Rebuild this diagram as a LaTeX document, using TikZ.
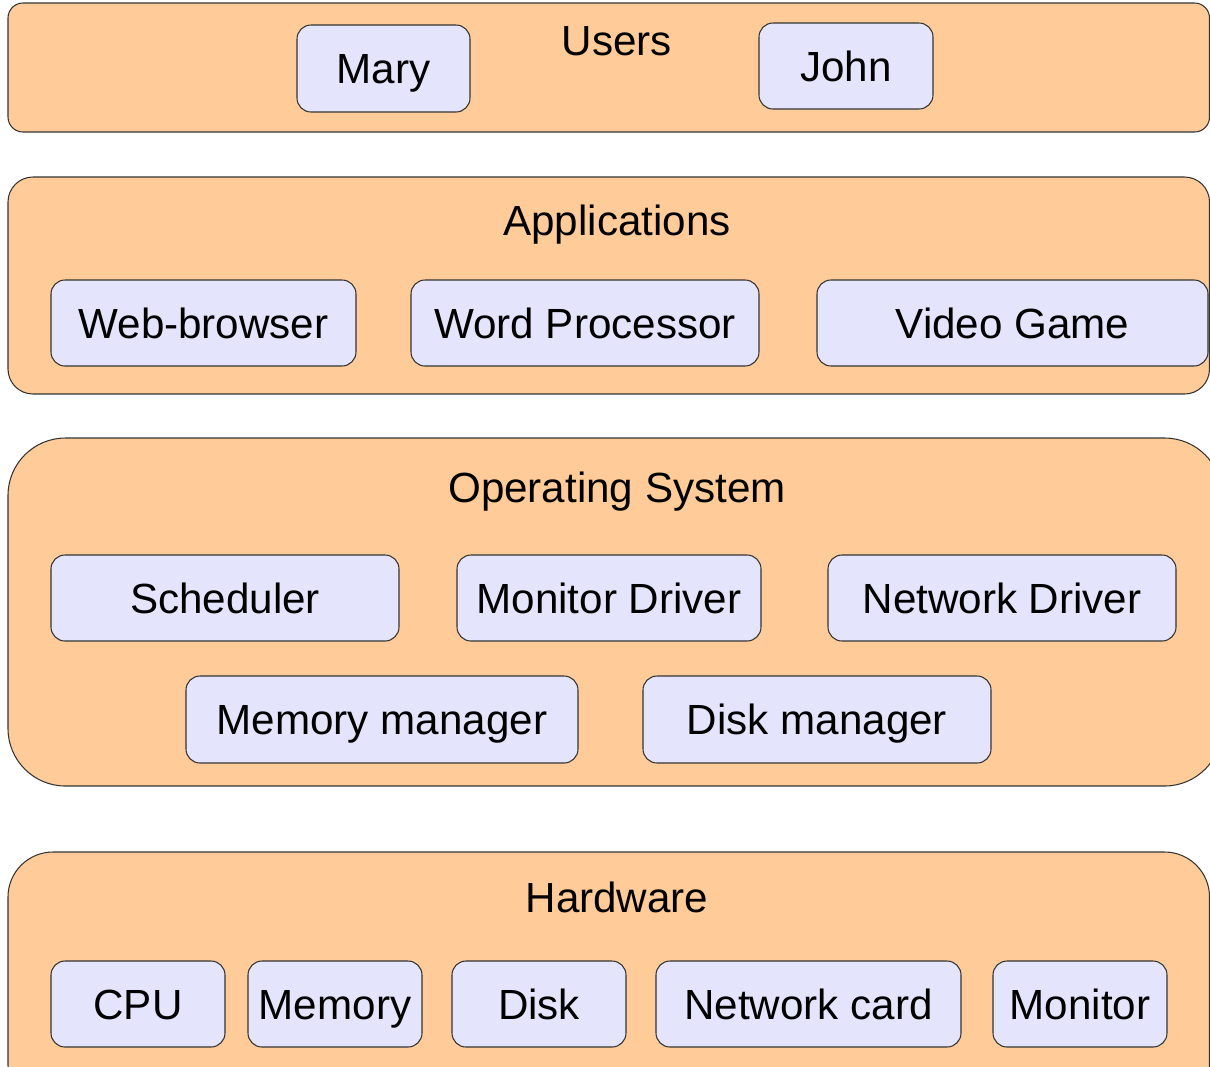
\documentclass[tikz,border=0pt]{standalone}
\usepackage{fontspec}
\setmainfont{Liberation Sans}
\usepackage{tikz}
\usetikzlibrary{positioning}
\usepackage{xcolor}

\definecolor{layerfill}{RGB}{255,204,153}
\definecolor{unitfill}{RGB}{228,228,252}

\begin{document}
\begin{tikzpicture}[
    layer/.style={draw=black!80, line width=0.6pt, fill=layerfill, inner sep=0pt},
    unit/.style={draw=black!80, line width=0.6pt, fill=unitfill, rounded corners=0.28cm,
        inner sep=0pt, minimum height=1.72cm, text height=17.3pt, text depth=0pt,
        font=\fontsize{24}{28}\selectfont},
    title/.style={inner sep=0pt, text height=17.3pt, text depth=0pt,
        font=\fontsize{24}{28}\selectfont}
]
\clip (0,0) rectangle (24.2,-21.32);

%\draw[gray,very thin, step=1cm, opacity=0.5] (0,0) grid (24.2,-21.32);

% users
\node[layer, rounded corners=0.3cm, minimum width=24.03cm, minimum height=2.58cm] (users) at (12.175,-1.35) {};
\node[title] (userstitle) at (12.34,-0.80) {Users};
\node[unit, minimum width=3.46cm, minimum height=1.74cm] (mary) at (7.67,-1.37) {Mary};
\node[unit, minimum width=3.48cm] (john) at (16.92,-1.32) {John};

% applications
\node[layer, rounded corners=0.5cm, minimum width=24.03cm, minimum height=4.34cm] (apps) at (12.175,-5.71) {};
\node[title] (appstitle) at (12.34,-4.40) {Applications};
\node[unit, minimum width=6.1cm] (browser) at (4.07,-6.46) {Web-browser};
\node[unit, minimum width=6.96cm] (word) at (11.7,-6.46) {Word Processor};
\node[unit, minimum width=7.82cm] (game) at (20.25,-6.46) {Video Game};

% operating system (runs off the right side)
\node[layer, rounded corners=1.15cm, minimum width=24.28cm, minimum height=6.96cm] (os) at (12.3,-12.24) {};
\node[title] (ostitle) at (12.34,-9.74) {Operating System};
\node[unit, minimum width=6.96cm] (sched) at (4.5,-11.96) {Scheduler};
\node[unit, minimum width=6.08cm] (mondrv) at (12.18,-11.96) {Monitor Driver};
\node[unit, minimum width=6.96cm] (netdrv) at (20.04,-11.96) {Network Driver};
\node[unit, minimum width=7.84cm, minimum height=1.74cm] (memman) at (7.64,-14.39) {Memory manager};
\node[unit, minimum width=6.96cm, minimum height=1.74cm] (diskman) at (16.34,-14.39) {Disk manager};

% hardware
\node[layer, rounded corners=0.9cm, minimum width=24.03cm, minimum height=5.16cm] (hw) at (12.175,-19.62) {};
\node[title] (hwtitle) at (12.34,-17.94) {Hardware};
\node[unit, minimum width=3.48cm] (cpu) at (2.76,-20.08) {CPU};
\node[unit, minimum width=3.48cm] (mem) at (6.7,-20.08) {Memory};
\node[unit, minimum width=3.48cm] (disk) at (10.78,-20.08) {Disk};
\node[unit, minimum width=6.1cm] (netcard) at (16.17,-20.08) {Network card};
\node[unit, minimum width=3.48cm] (monitor) at (21.6,-20.08) {Monitor};

\end{tikzpicture}
\end{document}
